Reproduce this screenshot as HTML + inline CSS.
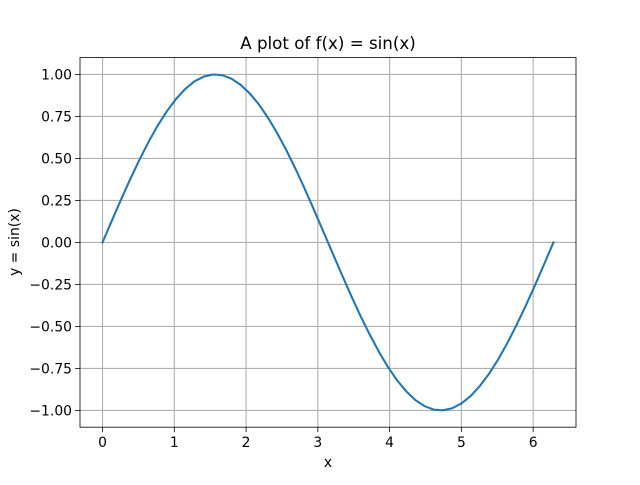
<!DOCTYPE html>
<html><head><meta charset="utf-8"><style>
body{margin:0;background:#fff}
text{font-family:"DejaVu Sans","Liberation Sans",sans-serif;fill:#000}
</style></head><body>
<svg id="chart" width="640" height="480" xmlns="http://www.w3.org/2000/svg">
<rect width="640" height="480" fill="#fff"/>
<g id="grid"></g>
<g id="plot"></g>
<rect x="80" y="57.6" width="496" height="369.6" fill="none" stroke="#000" stroke-width="0.8"/>
<g id="ticks"></g>
<text x="328" y="49" font-size="16.7" text-anchor="middle">A plot of f(x) = sin(x)</text>
<text x="328" y="467" font-size="13.9" text-anchor="middle">x</text>
<text transform="translate(19,242) rotate(-90)" font-size="13.9" text-anchor="middle">y = sin(x)</text>
</svg>
<script>
const xs=[0,0.128,0.256,0.385,0.513,0.641,0.769,0.898,1.026,1.154,1.282,1.411,1.539,1.667,1.795,1.923,2.052,2.180,2.308,2.436,2.565,2.693,2.821,2.949,3.077,3.206,3.334,3.462,3.590,3.719,3.847,3.975,4.103,4.232,4.360,4.488,4.616,4.744,4.873,5.001,5.129,5.257,5.386,5.514,5.642,5.770,5.899,6.027,6.155,6.283];
const ys=[0,0.1279,0.2537,0.3753,0.4907,0.5981,0.6957,0.7818,0.8551,0.9144,0.9587,0.9872,0.9995,0.9954,0.9749,0.9385,0.8866,0.8203,0.7406,0.6482,0.5455,0.4339,0.3151,0.1912,0.0641,-0.0641,-0.1912,-0.3151,-0.4339,-0.5455,-0.6482,-0.7406,-0.8203,-0.8866,-0.9385,-0.9749,-0.9954,-0.9995,-0.9872,-0.9587,-0.9144,-0.8551,-0.7818,-0.6957,-0.5981,-0.4907,-0.3753,-0.2537,-0.1279,0];
const xTicks=[0,1,2,3,4,5,6];
const yTicks=[-1,-0.75,-0.5,-0.25,0,0.25,0.5,0.75,1];
const yTickLabels=["\u22121.00","\u22120.75","\u22120.50","\u22120.25","0.00","0.25","0.50","0.75","1.00"];
const NS="http://www.w3.org/2000/svg";
const x0=-0.31416,x1=6.59734,y0=-1.1,y1=1.1;
const L=80,R=576,T=57.6,B=427.2;
function sx(v){return L+(v-x0)/(x1-x0)*(R-L);}
function sy(v){return B-(v-y0)/(y1-y0)*(B-T);}
function mk(tag,attrs,parent){const e=document.createElementNS(NS,tag);for(const k in attrs)e.setAttribute(k,attrs[k]);parent.appendChild(e);return e;}
const grid=document.getElementById('grid'),ticks=document.getElementById('ticks'),plot=document.getElementById('plot');
xTicks.forEach(t=>{
 const g=mk('line',{x1:sx(t),x2:sx(t),y1:T,y2:B,stroke:'#b0b0b0','stroke-width':1.1},grid);
 
 
 const tk=mk('line',{x1:sx(t),x2:sx(t),y1:B,y2:B+4.9,stroke:'#000','stroke-width':0.8},ticks);
 
 
 const tx=mk('text',{x:sx(t),y:B+20,'font-size':13.9,'text-anchor':'middle'},ticks);
 tx.textContent=String(t);
 
 
});
yTicks.forEach((t,i)=>{
 const g=mk('line',{x1:L,x2:R,y1:sy(t),y2:sy(t),stroke:'#b0b0b0','stroke-width':1.1},grid);
 
 
 const tk=mk('line',{x1:L-4.9,x2:L,y1:sy(t),y2:sy(t),stroke:'#000','stroke-width':0.8},ticks);
 
 
 const tx=mk('text',{x:L-8,y:sy(t)+5,'font-size':13.9,'text-anchor':'end'},ticks);
 tx.textContent=yTickLabels[i];
 
 
});
const pts=xs.map((x,i)=>sx(x).toFixed(2)+','+sy(ys[i]).toFixed(2)).join(' ');
const line=mk('polyline',{points:pts,fill:'none',stroke:'#1f77b4','stroke-width':2.08,'stroke-linejoin':'round','stroke-linecap':'square'},plot);


</script>
</body></html>
